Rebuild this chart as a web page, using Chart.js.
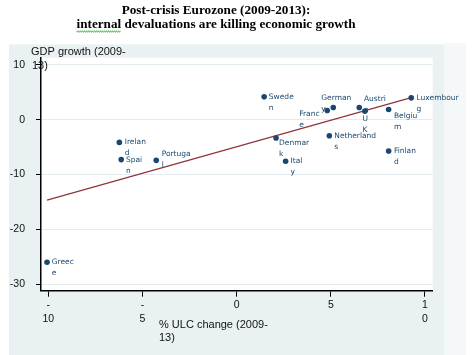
<!DOCTYPE html>
<html><head><meta charset="utf-8">
<script src="https://cdn.jsdelivr.net/npm/chart.js@4"></script>
<style>html,body{margin:0;padding:0;background:#fff;}canvas{display:block;}</style>
</head><body>
<canvas id="c" width="472" height="355"></canvas>
<script>
const countries = ['Greece','Ireland','Spain','Portugal','Italy','Denmark','Sweden','France','Germany','Netherlands','Austria','UK','Belgium','Finland','Luxembourg'];
const ulcChange = [-10.07,-6.23,-6.13,-4.27,2.60,2.09,1.46,4.81,5.13,4.92,6.51,6.81,8.07,8.07,9.27];
const gdpGrowth = [-26.0,-4.15,-7.29,-7.42,-7.6,-3.36,4.16,1.67,2.22,-2.93,2.22,1.55,1.85,-5.73,3.98];
const pointLabels = [['Greec','e'],['Irelan','d'],['Spai','n'],['Portuga','l'],['Ital','y'],['Denmar','k'],['Swede','n'],['Franc','e'],['German','y'],['Netherland','s'],['Austri','a'],['U','K'],['Belgiu','m'],['Finlan','d'],['Luxembour','g']];
const fitX = [-10.07, 9.27];
const fitY = [-14.7, 4.0];
const xTicks = [-10,-5,0,5,10];
const xTickLabels = [['-','10'],['-','5'],'0','5',['1','0']];
const yTicks = [-30,-20,-10,0,10];
const yTickLabels = ['-30','-20','-10','0','10'];
const titleLines = ['Post-crisis Eurozone (2009-2013):','internal devaluations are killing economic growth'];
const xTitle = ['% ULC change (2009-','13)'];
const yTitle = ['GDP growth (2009-','13)'];

// label placement (style): offsets in px from the marker
const labelOffsets = {Greece:[4.7,0], Ireland:[5.4,0], Spain:[4.7,0], Portugal:[5.4,-6.7], Italy:[5,0], Denmark:[3,4.7], Sweden:[4.7,0], France:[-28,4], Germany:[-12,-9.5], Netherlands:[5,0], Austria:[4.7,-8], UK:[-2.5,8.3], Belgium:[5.3,6.7], Finland:[5.3,0], Luxembourg:[5.3,0]};

const NAVY = '#1a476f', MAROON = '#90353b';

const decor = {
  id: 'decor',
  beforeDraw(chart) {
    const ctx = chart.ctx, a = chart.chartArea;
    ctx.save();
    ctx.fillStyle = '#ffffff'; ctx.fillRect(0, 0, 472, 355);
    ctx.fillStyle = '#f5f8f9'; ctx.fillRect(444, 43, 22, 312);
    ctx.fillStyle = '#eaf1f3'; ctx.fillRect(9, 44.3, 435, 311);
    ctx.fillStyle = '#ffffff'; ctx.fillRect(a.left, a.top, a.right - a.left, a.bottom - a.top);
    ctx.restore();
  },
  beforeDatasetsDraw(chart) {
    const ctx = chart.ctx, meta = chart.getDatasetMeta(0);
    ctx.save();
    ctx.font = '7.5px "DejaVu Sans"';
    ctx.fillStyle = NAVY;
    ctx.textAlign = 'left';
    ctx.textBaseline = 'middle';
    meta.data.forEach((el, i) => {
      const off = labelOffsets[countries[i]] || [5, 0];
      pointLabels[i].forEach((ln, j) => {
        ctx.fillText(ln, el.x + off[0], el.y + off[1] + j * 11);
      });
    });
    ctx.restore();
  },
  afterDraw(chart) {
    const ctx = chart.ctx;
    ctx.save();
    // title
    ctx.fillStyle = '#000';
    ctx.font = 'bold 13.2px "Liberation Serif"';
    ctx.textAlign = 'center';
    ctx.textBaseline = 'middle';
    ctx.fillText(titleLines[0], 216, 11);
    ctx.fillText(titleLines[1], 216, 25);
    // spell-check squiggle under first word
    const full = ctx.measureText(titleLines[1]).width;
    const w1 = ctx.measureText(titleLines[1].split(' ')[0]).width;
    const x0 = 216 - full / 2;
    ctx.strokeStyle = '#3aa63a';
    ctx.lineWidth = 0.8;
    ctx.beginPath();
    for (let x = 0; x <= w1; x += 1) {
      const y = 31.5 + ((Math.floor(x) % 2) ? 0.8 : -0.8);
      if (x === 0) ctx.moveTo(x0 + x, y); else ctx.lineTo(x0 + x, y);
    }
    ctx.stroke();
    // axis titles
    ctx.font = '11px "Liberation Sans"';
    ctx.fillStyle = '#111';
    ctx.textAlign = 'left';
    ctx.fillText(yTitle[0], 31, 51.7);
    ctx.fillText(yTitle[1], 32, 66);
    ctx.fillText(xTitle[0], 159, 325);
    ctx.fillText(xTitle[1], 159, 338);
    ctx.restore();
  }
};

new Chart(document.getElementById('c'), {
  type: 'scatter',
  data: {
    datasets: [
      {
        data: ulcChange.map((x, i) => ({x, y: gdpGrowth[i]})),
        backgroundColor: NAVY, borderColor: NAVY, borderWidth: 0,
        pointRadius: 2.8, order: 0
      },
      {
        type: 'line',
        data: fitX.map((x, i) => ({x, y: fitY[i]})),
        borderColor: MAROON, borderWidth: 1.3, pointRadius: 0,
        fill: false, tension: 0, order: 1
      }
    ]
  },
  options: {
    responsive: false, devicePixelRatio: 1, animation: false,
    layout: { padding: { top: 57.7, right: 39.3, bottom: 0, left: 0 } },
    plugins: { legend: { display: false }, tooltip: { enabled: false }, title: { display: false } },
    scales: {
      x: {
        type: 'linear', min: -10.39, max: 10.41,
        afterBuildTicks: s => { s.ticks = xTicks.map(v => ({value: v})); },
        afterFit: s => { s.height = 64.3; },
        grid: { drawOnChartArea: false, drawTicks: true, tickLength: 6, tickColor: '#000', tickWidth: 1 },
        border: { color: '#000', width: 1.5 },
        ticks: {
          callback: v => xTickLabels[xTicks.indexOf(v)],
          font: { family: '"Liberation Sans"', size: 10.5, lineHeight: 1.35 },
          color: '#111', padding: 1, maxRotation: 0, autoSkip: false
        }
      },
      y: {
        type: 'linear', min: -31.2, max: 11.3,
        afterBuildTicks: s => { s.ticks = yTicks.map(v => ({value: v})); },
        afterFit: s => { s.width = 41; },
        grid: { color: '#e4ebee', lineWidth: 1, drawTicks: true, tickLength: 5, tickColor: '#000', tickWidth: 1 },
        border: { color: '#000', width: 1.5 },
        ticks: {
          callback: v => yTickLabels[yTicks.indexOf(v)],
          font: { family: '"Liberation Sans"', size: 10.5 },
          color: '#111', padding: 11, autoSkip: false
        }
      }
    }
  },
  plugins: [decor]
});
</script>
</body></html>
